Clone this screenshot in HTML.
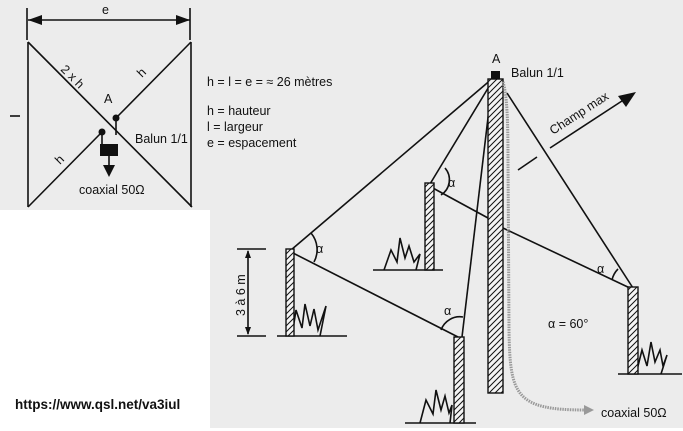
<!DOCTYPE html>
<html><head><meta charset="utf-8"><style>
html,body{margin:0;padding:0;background:#fff;width:683px;height:431px;overflow:hidden}
svg{display:block}
text{font-family:"Liberation Sans",sans-serif;fill:#111}
</style></head><body>
<svg width="683" height="431" viewBox="0 0 683 431" xmlns="http://www.w3.org/2000/svg">
<defs>
<pattern id="h" width="6" height="6" patternUnits="userSpaceOnUse">
<rect width="6" height="6" fill="#f4f4f4"/>
<path d="M-1,7 L7,-1 M-4,4 L4,-4 M2,10 L10,2" stroke="#111" stroke-width="1"/>
</pattern>
</defs>
<rect x="0" y="0" width="210" height="210" fill="#ececec"/>
<rect x="210" y="0" width="473" height="428" fill="#ececec"/>
<g stroke="#111" stroke-width="1.6" fill="none">
<line x1="28" y1="20" x2="190" y2="20"/>
<line x1="27" y1="8" x2="27" y2="40"/>
<line x1="190" y1="8" x2="190" y2="40"/>
<line x1="28" y1="42" x2="28" y2="207"/>
<line x1="191" y1="42" x2="191" y2="207"/>
<line x1="28" y1="42" x2="192" y2="207"/>
<line x1="116" y1="118" x2="191" y2="42"/>
<line x1="102" y1="132" x2="28" y2="207"/>
<line x1="116" y1="118" x2="116" y2="135"/>
<line x1="102" y1="132" x2="102" y2="146"/>
<line x1="109" y1="156" x2="109" y2="166"/>
<line x1="10" y1="116" x2="20" y2="116"/>
<line x1="237" y1="249" x2="266" y2="249"/>
<line x1="237" y1="336" x2="266" y2="336"/>
<line x1="248" y1="251" x2="248" y2="334"/>
<line x1="277" y1="336" x2="347" y2="336"/>
<line x1="373" y1="270" x2="443" y2="270"/>
<line x1="405" y1="423" x2="476" y2="423"/>
<line x1="618" y1="374" x2="682" y2="374"/>
<line x1="493" y1="78" x2="291" y2="250"/>
<line x1="493" y1="80" x2="430" y2="184"/>
<line x1="291" y1="252" x2="458" y2="337"/>
<line x1="462" y1="337" x2="492" y2="84"/>
<line x1="431" y1="187" x2="488" y2="218"/>
<line x1="503" y1="228" x2="632" y2="289"/>
<line x1="507" y1="93" x2="633" y2="288"/>
<line x1="550" y1="148" x2="625" y2="99"/>
<line x1="518" y1="170" x2="537" y2="157"/>
<path d="M311,233 A26,26 0 0 1 314,262"/>
<path d="M445,168 A18,18 0 0 1 441,195"/>
<path d="M441,330 A20,20 0 0 1 463,317"/>
<path d="M612,280 A22,22 0 0 1 618,269"/>
<path d="M292,336 L296,310 L302,328 L305,304 L310,326 L314,309 L318,330 L326,306 L320,336"/>
<path d="M384,270 L391,250 L397,262 L400,238 L405,258 L409,246 L414,262 L420,254 L416,270"/>
<path d="M420,423 L426,400 L433,414 L436,390 L441,410 L445,396 L449,413 L452,405 L450,423"/>
<path d="M636,374 L642,350 L647,366 L651,342 L655,362 L660,350 L663,366 L667,355 L661,374"/>
</g>
<g fill="#111">
<polygon points="28,20 42,15 42,25"/>
<polygon points="190,20 176,15 176,25"/>
<polygon points="248,250 245,258 251,258"/>
<polygon points="248,335 245,327 251,327"/>
<polygon points="636,92 618,96 626,107"/>
<polygon points="103,165 115,165 109,177"/>
<rect x="100" y="144" width="18" height="12"/>
<circle cx="116" cy="118" r="3.5"/>
<circle cx="102" cy="132" r="3.5"/>
<rect x="491" y="71" width="9" height="9"/>
</g>
<g stroke="#111" stroke-width="1.4" fill="url(#h)">
<rect x="488" y="79" width="15" height="314"/>
<rect x="286" y="249" width="8" height="87"/>
<rect x="425" y="183" width="9" height="87"/>
<rect x="454" y="337" width="10" height="86"/>
<rect x="628" y="287" width="10" height="87"/>
</g>
<path d="M503,82 C507,95 508,120 508,160 L509,330 C510,395 515,410 585,410" stroke="#999" stroke-width="3" fill="none" stroke-dasharray="1.5 1"/>
<polygon points="584,405 594,410 584,415" fill="#999"/>
<g font-size="12.5">
<text x="102" y="14">e</text>
<text x="0" y="0" transform="translate(60,70) rotate(45)">2 x h</text>
<text x="0" y="0" transform="translate(142,78) rotate(-45)">h</text>
<text x="0" y="0" transform="translate(60,165) rotate(-45)">h</text>
<text x="104" y="103">A</text>
<text x="135" y="143">Balun 1/1</text>
<text x="79" y="194">coaxial 50Ω</text>
<text x="207" y="86">h = l = e = ≈ 26 mètres</text>
<text x="207" y="115">h = hauteur</text>
<text x="207" y="131">l  = largeur</text>
<text x="207" y="147">e = espacement</text>
<text x="492" y="63">A</text>
<text x="511" y="77">Balun 1/1</text>
<text x="0" y="0" transform="translate(553,135) rotate(-33)">Champ max</text>
<text x="316" y="253">α</text>
<text x="448" y="187">α</text>
<text x="444" y="315">α</text>
<text x="597" y="273">α</text>
<text x="548" y="328">α = 60°</text>
<text x="0" y="0" transform="translate(245,316) rotate(-90)">3 à 6 m</text>
<text x="601" y="417">coaxial 50Ω</text>
</g>
<text x="15" y="409" font-size="13.5" font-weight="bold">https://www.qsl.net/va3iul</text>
</svg>
</body></html>
